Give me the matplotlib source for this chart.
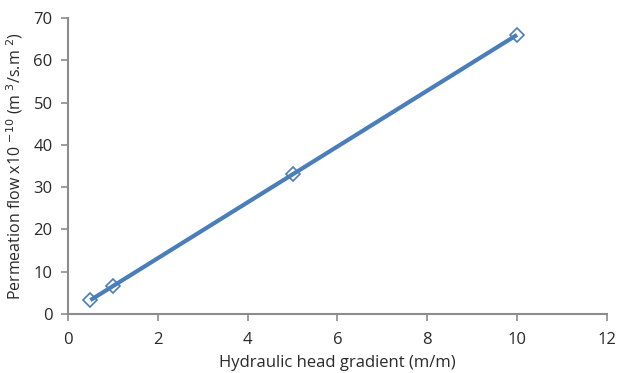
import matplotlib
matplotlib.use("Agg")
import matplotlib.pyplot as plt

plt.rcParams['font.family'] = ['Open Sans', 'DejaVu Sans']

gradient = [0.5, 1, 5, 10]
flow = [3.3, 6.6, 33.0, 66.0]
x_ticks = [0, 2, 4, 6, 8, 10, 12]
y_ticks = [0, 10, 20, 30, 40, 50, 60, 70]

fig = plt.figure(figsize=(6.18, 3.73), dpi=100)
ax = fig.add_axes([0.110, 0.158, 0.872, 0.794])

blue = '#4a7ebb'
ax.plot(gradient, flow, ls='none', marker='D', markersize=7,
        markerfacecolor='white', markeredgecolor=blue, markeredgewidth=1.2, zorder=2)
ax.plot(gradient, flow, color=blue, lw=3, solid_capstyle='butt', zorder=3)

ax.set_xlim(0, 12)
ax.set_ylim(0, 70)
ax.set_xticks(x_ticks)
ax.set_yticks(y_ticks)

for s in ['top', 'right']:
    ax.spines[s].set_visible(False)
for s in ['left', 'bottom']:
    ax.spines[s].set_color('#8c8c8c')
    ax.spines[s].set_linewidth(1.5)
ax.tick_params(direction='out', length=5, width=1.2, color='#8c8c8c',
               labelsize=12, labelcolor='#2a2a2a')
ax.tick_params(axis='x', pad=8)
ax.tick_params(axis='y', pad=6)

ax.set_xlabel('Hydraulic head gradient (m/m)', fontsize=12, color='#2a2a2a', labelpad=5)
ax.set_ylabel(r'Permeation flow x10 $^{-10}$ (m $^{3}$/s.m $^{2}$)', fontsize=11.5,
              color='#2a2a2a', labelpad=6)

fig.savefig('out.png', dpi=100)
